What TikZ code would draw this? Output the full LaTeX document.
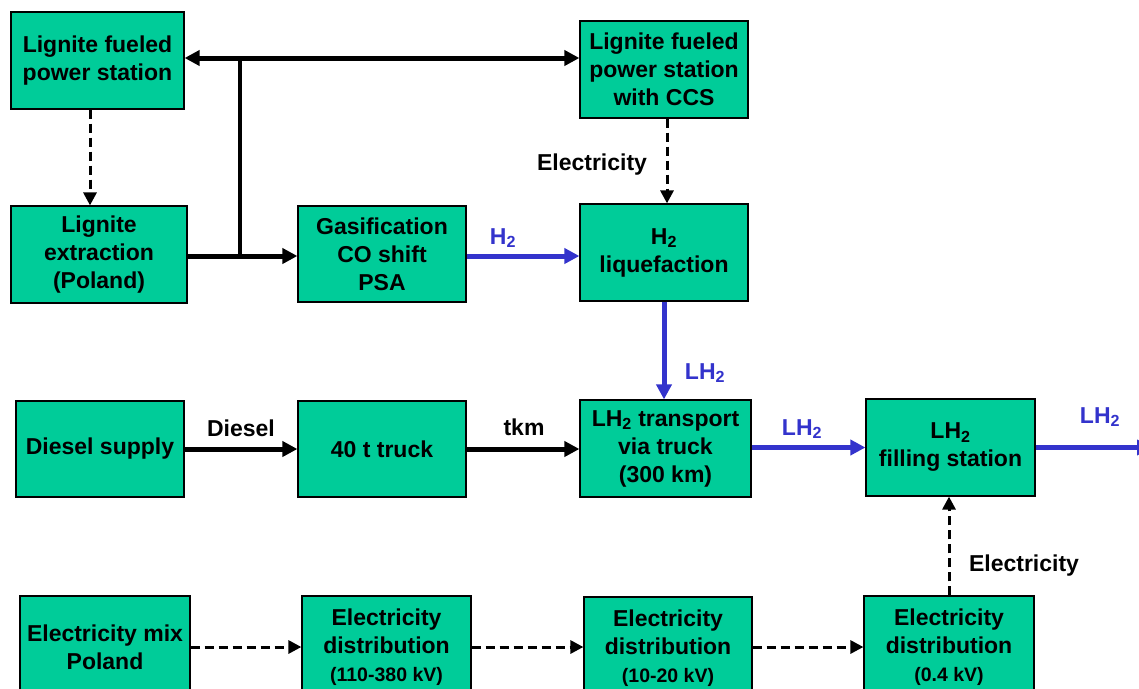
\documentclass[tikz,border=0pt]{standalone}
\usepackage{fontspec}
\setmainfont{Liberation Sans}
\usetikzlibrary{arrows.meta}
\definecolor{boxgreen}{HTML}{00CC99}
\definecolor{flowblue}{HTML}{3333CC}
\begin{document}
\begin{tikzpicture}[x=1pt,y=-1pt,
  box/.style={draw=black, line width=1.2pt, fill=boxgreen, align=center,
    font=\bfseries\fontsize{23}{28}\selectfont, inner sep=0pt},
  lbl/.style={font=\bfseries\fontsize{23}{28}\selectfont, inner sep=0pt},
  blbl/.style={lbl, text=flowblue},
  solidarrow/.style={line width=5pt, -{Triangle[length=15pt,width=15pt]}},
  bluearrow/.style={line width=5pt, draw=flowblue, -{Triangle[length=15pt,width=15pt,fill=flowblue]}},
  dasharrow/.style={line width=3pt, dash pattern=on 9pt off 5pt, -{Triangle[length=13pt,width=13pt]}}
]
\useasboundingbox[fill=white] (0,0) rectangle (1139,688);

% boxes
\node[box, minimum width=173pt, minimum height=97pt] (b1) at (97.5,60.5) {Lignite fueled\\power station};
\node[box, minimum width=168pt, minimum height=97pt] (ccs) at (664,69.5) {Lignite fueled\\power station\\with CCS};
\node[box, minimum width=176pt, minimum height=97pt] (ext) at (99,254.5) {Lignite\\extraction\\(Poland)};
\node[box, minimum width=168pt, minimum height=96pt] (gas) at (382,254) {Gasification\\CO shift\\PSA};
\node[box, minimum width=168pt, minimum height=97pt] (liq) at (664,252.5) {H\textsubscript{2}\\liquefaction};
\node[box, minimum width=168pt, minimum height=96pt] (dsl) at (100,449) {Diesel supply};
\node[box, minimum width=168pt, minimum height=96pt] (trk) at (382,449) {40 t truck};
\node[box, minimum width=171pt, minimum height=97pt] (trn) at (665.5,448.5) {LH\textsubscript{2} transport\\via truck\\(300 km)};
\node[box, minimum width=169pt, minimum height=97pt] (fil) at (950.5,447.5) {LH\textsubscript{2}\\filling station};
\node[box, minimum width=170pt, minimum height=102pt] (emix) at (105,647) {Electricity mix\\Poland};
\node[box, minimum width=169pt, minimum height=102pt] (ed1) at (386.5,647) {Electricity\\distribution\\{\fontsize{19.5}{24}\selectfont (110-380 kV)}};
\node[box, minimum width=168pt, minimum height=102pt] (ed2) at (668,648) {Electricity\\distribution\\{\fontsize{19.5}{24}\selectfont (10-20 kV)}};
\node[box, minimum width=170pt, minimum height=102pt] (ed3) at (949,647) {Electricity\\distribution\\{\fontsize{19.5}{24}\selectfont (0.4 kV)}};

% junction coordinates
\coordinate (jt) at (240,58);
\coordinate (jb) at (240,256);
\coordinate (out) at (1152,447.5);

% black solid connectors
\draw[solidarrow, {Triangle[length=15pt,width=15pt]}-{Triangle[length=15pt,width=15pt]}] (b1.east |- jt) -- (ccs.west |- jt);
\draw[line width=4.2pt] (jt) -- (jb);
\draw[solidarrow] (ext.east |- jb) -- (gas.west |- jb);
\draw[solidarrow] (dsl.east) -- (trk.west);
\draw[solidarrow] (trk.east) -- (trn.west |- trk.east);

% blue connectors
\draw[bluearrow] (gas.east |- jb) -- (liq.west |- jb);
\draw[bluearrow] (liq.south) -- (liq.south |- trn.north);
\draw[bluearrow] (trn.east |- fil.west) -- (fil.west);
\draw[bluearrow] (fil.east) -- (out);

% dashed connectors
\draw[dasharrow] ([xshift=-7.5pt]b1.south) -- ([xshift=-9pt]ext.north);
\draw[dasharrow] ([xshift=3pt]ccs.south) -- ([xshift=3pt]liq.north);
\draw[dasharrow] (emix.east) -- (ed1.west);
\draw[dasharrow] (ed1.east) -- (ed2.west |- ed1.east);
\draw[dasharrow] (ed2.east |- ed1.east) -- (ed3.west);
\draw[dasharrow] (ed3.north) -- (ed3.north |- fil.south);

% labels
\node[lbl] (lel1) at (592,165) {Electricity};
\node[lbl] (lel2) at (1024,566) {Electricity};
\node[lbl] (ldsl) at (241,428) {Diesel};
\node[lbl] (ltkm) at (524,427) {tkm};
\node[blbl] (lh2) at (503,238) {H\textsubscript{2}};
\node[blbl] (llh1) at (705,373) {LH\textsubscript{2}};
\node[blbl] (llh2) at (802,429) {LH\textsubscript{2}};
\node[blbl] (llh3) at (1100,417) {LH\textsubscript{2}};
\end{tikzpicture}
\end{document}
